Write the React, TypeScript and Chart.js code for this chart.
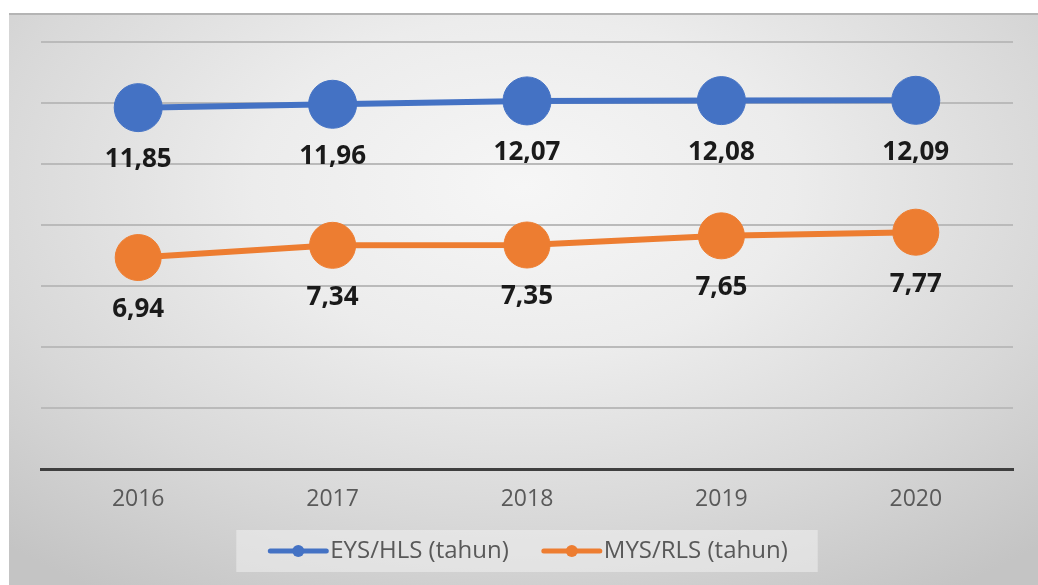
import React, { useEffect, useRef } from "react";
import { Chart, registerables } from "chart.js";

Chart.register(...registerables);

const years = ["2016", "2017", "2018", "2019", "2020"];
const eysValues = [11.85, 11.96, 12.07, 12.08, 12.09];
const mysValues = [6.94, 7.34, 7.35, 7.65, 7.77];
const seriesLabels = ["EYS/HLS (tahun)", "MYS/RLS (tahun)"];
const seriesColors = ["#4472C4", "#ED7D31"];
const yMin = 0;
const yMax = 14;
const yStep = 2;

const fmt = (v: number) => v.toFixed(2).replace(".", ",");

const dataLabelPlugin = {
  id: "dataLabels",
  afterDatasetsDraw(chart: any) {
    const ctx = chart.ctx;
    ctx.save();
    ctx.font = "bold 26px 'Open Sans'";
    ctx.fillStyle = "#1a1a1a";
    ctx.textAlign = "center";
    ctx.textBaseline = "middle";
    chart.data.datasets.forEach((ds: any, i: number) => {
      const meta = chart.getDatasetMeta(i);
      meta.data.forEach((pt: any, j: number) => {
        ctx.fillText(fmt(ds.data[j]), pt.x, pt.y + 52);
      });
    });
    ctx.restore();
  },
};

const legendPlugin = {
  id: "customLegend",
  afterDraw(chart: any) {
    const ctx = chart.ctx;
    const area = chart.chartArea;
    const cy = chart.height - 34;
    const lineLen = 60;
    const gap = 2;
    const itemGap = 33;
    const padL = 32;
    const padR = 30;
    ctx.save();
    ctx.font = "24px 'Open Sans'";
    const items = chart.data.datasets.map((ds: any) => ({
      label: ds.label,
      color: ds.borderColor,
      w: lineLen + gap + ctx.measureText(ds.label).width,
    }));
    const total =
      items.reduce((s: number, it: any) => s + it.w, 0) + itemGap * (items.length - 1);
    const boxW = total + padL + padR;
    const cx = (area.left + area.right) / 2;
    const boxLeft = cx - boxW / 2;
    ctx.fillStyle = "rgba(240,240,240,0.55)";
    ctx.fillRect(boxLeft, cy - 21, boxW, 42);
    let x = boxLeft + padL;
    items.forEach((it: any) => {
      ctx.strokeStyle = it.color;
      ctx.lineWidth = 5;
      ctx.lineCap = "round";
      ctx.beginPath();
      ctx.moveTo(x + 2, cy);
      ctx.lineTo(x + lineLen - 2, cy);
      ctx.stroke();
      ctx.fillStyle = it.color;
      ctx.beginPath();
      ctx.arc(x + lineLen / 2, cy, 6, 0, Math.PI * 2);
      ctx.fill();
      ctx.fillStyle = "#595959";
      ctx.textAlign = "left";
      ctx.textBaseline = "middle";
      ctx.fillText(it.label, x + lineLen + gap, cy);
      x += it.w + itemGap;
    });
    ctx.restore();
  },
};

export default function App() {
  const canvasRef = useRef<HTMLCanvasElement | null>(null);

  useEffect(() => {
    if (!canvasRef.current) return;
    const chart = new Chart(canvasRef.current, {
      type: "line",
      data: {
        labels: years,
        datasets: [
          {
            label: seriesLabels[0],
            data: eysValues,
            borderColor: seriesColors[0],
            backgroundColor: seriesColors[0],
            borderWidth: 6,
            pointRadius: 24,
            pointHoverRadius: 24,
            pointBorderWidth: 1,
            pointBorderColor: seriesColors[0],
            pointBackgroundColor: seriesColors[0],
            tension: 0,
          },
          {
            label: seriesLabels[1],
            data: mysValues,
            borderColor: seriesColors[1],
            backgroundColor: seriesColors[1],
            borderWidth: 6,
            pointRadius: 23,
            pointHoverRadius: 23,
            pointBorderWidth: 1,
            pointBorderColor: seriesColors[1],
            pointBackgroundColor: seriesColors[1],
            tension: 0,
          },
        ],
      },
      options: {
        responsive: false,
        animation: false,
        devicePixelRatio: 1,
        layout: { padding: { left: 41, right: 19, top: 42, bottom: 56 } },
        plugins: {
          legend: { display: false },
          tooltip: { enabled: false },
        },
        scales: {
          x: {
            offset: true,
            grid: { display: false, drawTicks: false },
            border: { display: true, color: "#3f3f3f", width: 3 },
            ticks: {
              color: "#595959",
              font: { family: "'Open Sans'", size: 23 },
              padding: 16,
            },
          },
          y: {
            min: yMin,
            max: yMax,
            ticks: { display: false, stepSize: yStep },
            grid: { color: "#bababa", lineWidth: 2, drawTicks: false },
            border: { display: false },
          },
        },
      },
      plugins: [dataLabelPlugin, legendPlugin],
    });
    return () => chart.destroy();
  }, []);

  return (
    <div style={{ position: "absolute", left: 0, top: 0, width: 1038, height: 585, background: "#ffffff" }}>
      <div
        style={{
          position: "absolute",
          left: 9,
          top: 13,
          width: 1029,
          height: 572,
          borderTop: "2px solid #b4b4b4",
          boxSizing: "border-box",
          background:
            "radial-gradient(ellipse 75% 85% at 50% 30%, #f6f6f6 0%, #ececec 35%, #d8d8d8 70%, #c4c4c4 100%)",
        }}
      />
      <canvas
        ref={canvasRef}
        width={1038}
        height={585}
        style={{ position: "absolute", left: 0, top: 0, width: 1038, height: 585 }}
      />
    </div>
  );
}
